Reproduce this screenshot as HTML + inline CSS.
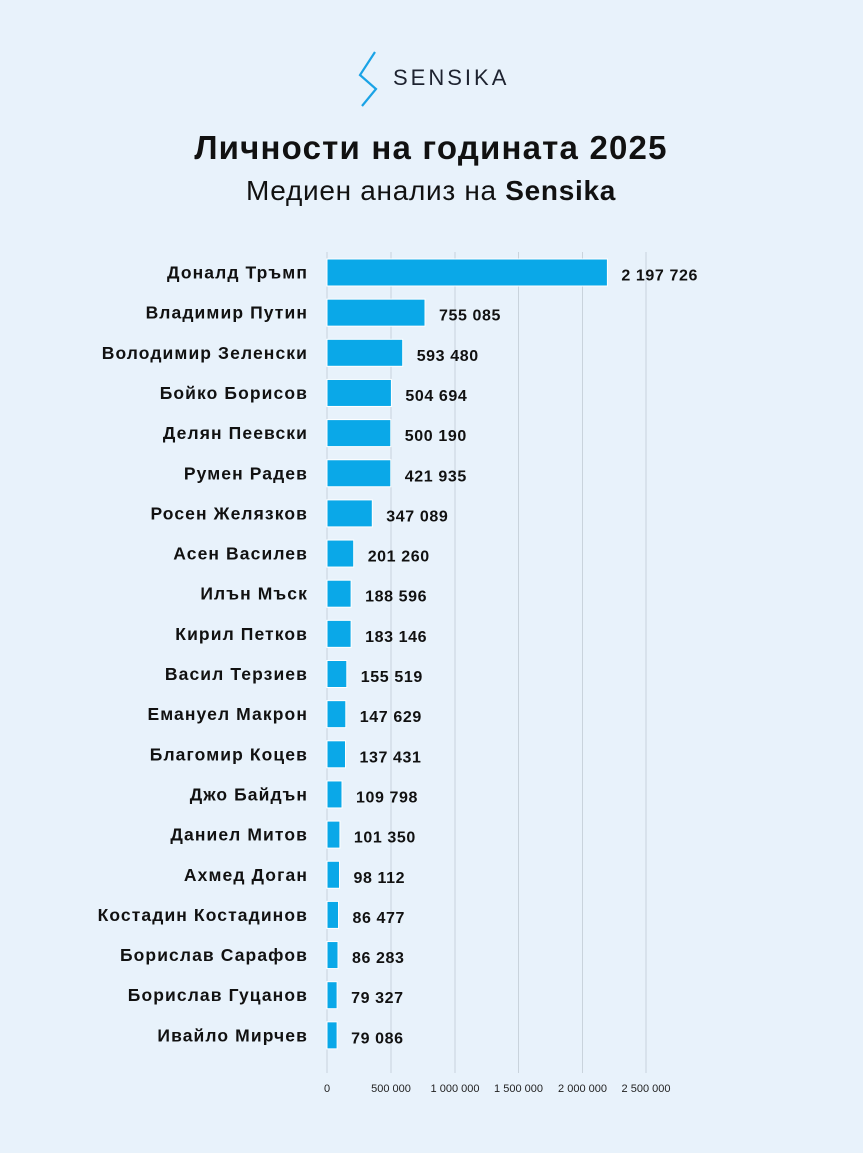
<!DOCTYPE html>
<html><head><meta charset="utf-8"><style>
html,body{margin:0;padding:0;background:#e8f2fb;}
svg{display:block;font-family:"Liberation Sans","DejaVu Sans",sans-serif;}
</style></head><body>
<svg width="863" height="1153" viewBox="0 0 863 1153" xmlns="http://www.w3.org/2000/svg">
<rect width="863" height="1153" fill="#e8f2fb"/>
<path d="M375 52 L360 75 L376 89 L362 106" fill="none" stroke="#1aa3e6" stroke-width="2.2"/>
<text x="393" y="85" font-size="22" fill="#1e2330" letter-spacing="3">SENSIKA</text>
<text x="431" y="159" text-anchor="middle" font-size="33" font-weight="bold" fill="#111" letter-spacing="1.2">Личности на годината 2025</text>
<text x="431" y="200" text-anchor="middle" font-size="28" fill="#111" letter-spacing="0.7">Медиен анализ на <tspan font-weight="bold">Sensika</tspan></text>
<g stroke="#c9d3dc" stroke-width="1">
<line x1="327" y1="252" x2="327" y2="1073"/><line x1="391" y1="252" x2="391" y2="1073"/><line x1="455" y1="252" x2="455" y2="1073"/><line x1="518.5" y1="252" x2="518.5" y2="1073"/><line x1="582.5" y1="252" x2="582.5" y2="1073"/><line x1="646" y1="252" x2="646" y2="1073"/>
</g>
<g font-size="11" fill="#222" text-anchor="middle">
<text x="327" y="1092">0</text><text x="391" y="1092">500 000</text><text x="455" y="1092">1 000 000</text><text x="518.5" y="1092">1 500 000</text><text x="582.5" y="1092">2 000 000</text><text x="646" y="1092">2 500 000</text>
</g>
<g fill="#0aa8e8" stroke="#fff" stroke-width="1">
<rect x="327" y="259" width="280.4" height="27"/>
<rect x="327" y="299.15" width="98" height="27"/>
<rect x="327" y="339.3" width="75.7" height="27"/>
<rect x="327" y="379.45" width="64.4" height="27"/>
<rect x="327" y="419.6" width="63.8" height="27"/>
<rect x="327" y="459.75" width="63.8" height="27"/>
<rect x="327" y="499.9" width="45.3" height="27"/>
<rect x="327" y="540.05" width="26.7" height="27"/>
<rect x="327" y="580.2" width="24.1" height="27"/>
<rect x="327" y="620.35" width="24.1" height="27"/>
<rect x="327" y="660.5" width="19.8" height="27"/>
<rect x="327" y="700.65" width="18.8" height="27"/>
<rect x="327" y="740.8" width="18.5" height="27"/>
<rect x="327" y="780.95" width="15" height="27"/>
<rect x="327" y="821.1" width="12.9" height="27"/>
<rect x="327" y="861.25" width="12.5" height="27"/>
<rect x="327" y="901.4" width="11.5" height="27"/>
<rect x="327" y="941.55" width="11" height="27"/>
<rect x="327" y="981.7" width="10.1" height="27"/>
<rect x="327" y="1021.85" width="10.1" height="27"/>
</g>
<g font-size="17.5" font-weight="bold" fill="#111" text-anchor="end" letter-spacing="1.1">
<text x="308" y="278.5">Доналд Тръмп</text>
<text x="308" y="318.65">Владимир Путин</text>
<text x="308" y="358.8">Володимир Зеленски</text>
<text x="308" y="398.95">Бойко Борисов</text>
<text x="308" y="439.1">Делян Пеевски</text>
<text x="308" y="479.25">Румен Радев</text>
<text x="308" y="519.4">Росен Желязков</text>
<text x="308" y="559.55">Асен Василев</text>
<text x="308" y="599.7">Илън Мъск</text>
<text x="308" y="639.85">Кирил Петков</text>
<text x="308" y="680">Васил Терзиев</text>
<text x="308" y="720.15">Емануел Макрон</text>
<text x="308" y="760.3">Благомир Коцев</text>
<text x="308" y="800.45">Джо Байдън</text>
<text x="308" y="840.6">Даниел Митов</text>
<text x="308" y="880.75">Ахмед Доган</text>
<text x="308" y="920.9">Костадин Костадинов</text>
<text x="308" y="961.05">Борислав Сарафов</text>
<text x="308" y="1001.2">Борислав Гуцанов</text>
<text x="308" y="1041.35">Ивайло Мирчев</text>
</g>
<g font-size="16" font-weight="bold" fill="#111" letter-spacing="0.6">
<text x="621.4" y="280.5">2 197 726</text>
<text x="439" y="320.65">755 085</text>
<text x="416.7" y="360.8">593 480</text>
<text x="405.4" y="400.95">504 694</text>
<text x="404.8" y="441.1">500 190</text>
<text x="404.8" y="481.25">421 935</text>
<text x="386.3" y="521.4">347 089</text>
<text x="367.7" y="561.55">201 260</text>
<text x="365.1" y="601.7">188 596</text>
<text x="365.1" y="641.85">183 146</text>
<text x="360.8" y="682">155 519</text>
<text x="359.8" y="722.15">147 629</text>
<text x="359.5" y="762.3">137 431</text>
<text x="356" y="802.45">109 798</text>
<text x="353.9" y="842.6">101 350</text>
<text x="353.5" y="882.75">98 112</text>
<text x="352.5" y="922.9">86 477</text>
<text x="352" y="963.05">86 283</text>
<text x="351.1" y="1003.2">79 327</text>
<text x="351.1" y="1043.35">79 086</text>
</g>
</svg>
</body></html>
